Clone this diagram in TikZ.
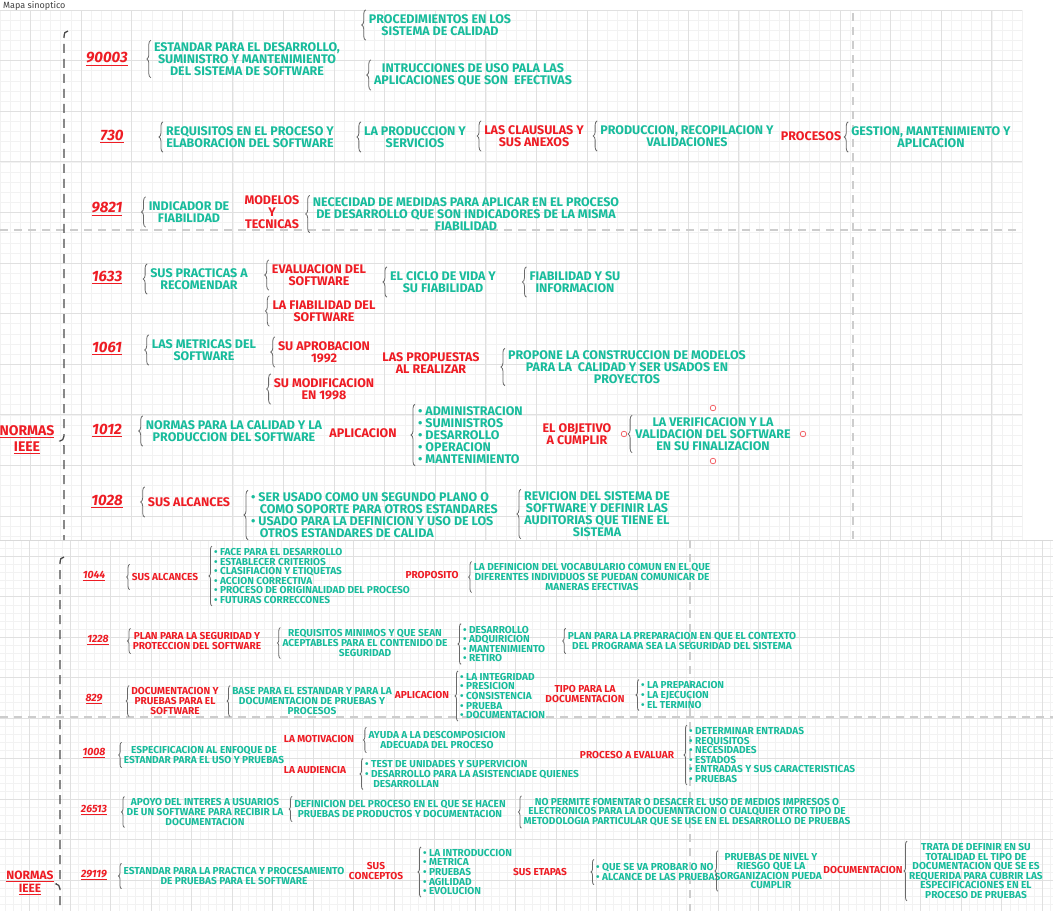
\documentclass[tikz,border=0pt]{standalone}
\usepackage{fontspec}
\setmainfont{Fira Sans}
\usetikzlibrary{decorations.pathreplacing}

\definecolor{verde}{RGB}{24,188,156}
\definecolor{rojo}{RGB}{238,28,36}
\definecolor{llave}{RGB}{105,105,105}
\definecolor{guia}{RGB}{205,205,205}
\newcommand{\topfs}{\fontsize{12.5}{12}\selectfont\bfseries}
\newcommand{\botfs}{\fontsize{10.1}{9.6}\selectfont\bfseries}

\tikzset{
  txt/.style={text=verde, font=\topfs, align=center, inner xsep=1pt, inner ysep=2pt, minimum height=30pt},
  rd/.style={txt, text=rojo},
  lst/.style={txt, align=left, anchor=west},
  num/.style={text=rojo, font=\fontsize{15}{16}\selectfont\bfseries\itshape},
  raiz/.style={text=rojo, align=center, inner sep=1pt, font=\fontsize{14}{16}\selectfont\bfseries},
  stxt/.style={txt, font=\botfs, minimum height=25pt},
  srd/.style={stxt, text=rojo},
  slst/.style={stxt, align=left, anchor=west},
  snum/.style={num, font=\fontsize{10.5}{11}\selectfont\bfseries\itshape},
  llv/.style={draw=llave, line width=0.8pt, decorate, decoration={brace, amplitude=4pt}},
  sllv/.style={llv, decoration={brace, amplitude=3pt}},
  spine/.style={draw=llave!70!black, line width=1.3pt, dash pattern=on 9pt off 6pt},
  guide/.style={draw=guia, line width=1.2pt, dash pattern=on 8pt off 6pt},
  minor/.style={draw=black!5, line width=0.5pt},
  major/.style={draw=black!12, line width=0.7pt},
}

\begin{document}
\begin{tikzpicture}[x=1pt,y=-1pt]
  \useasboundingbox (0,0) rectangle (1053,911);
  \clip (0,0) rectangle (1053,911);
  \fill[white] (0,0) rectangle (1053,911);

  % hoja de arriba
  \foreach \k in {0,...,101} \draw[minor] ({10.12*\k},10) -- ++(0,530);
  \foreach \k in {0,...,52} \draw[minor] (0,{10+10.12*\k}) -- (1022,{10+10.12*\k});
  \foreach \k in {0,...,19} \draw[major] ({30.36+50.6*\k},10) -- ++(0,530);
  \foreach \k in {0,...,10} \draw[major] (0,{10+50.6*\k}) -- (1022,{10+50.6*\k});
  % hoja de abajo
  \foreach \k in {0,...,129} \draw[minor] ({5.4+8.1*\k},540) -- ++(0,371);
  \foreach \k in {0,...,45} \draw[minor] (0,{540+8.1*\k}) -- (1053,{540+8.1*\k});
  \foreach \k in {0,...,25} \draw[major] ({29.7+40.5*\k},540) -- ++(0,371);
  \foreach \k in {0,...,9} \draw[major] (0,{556.2+40.5*\k}) -- (1053,{556.2+40.5*\k});
  \draw[black!15, line width=0.8pt] (0,540) -- (1053,540);

  \draw[guide] (0,230) -- (1022,230);
  \draw[guide] (853,13) -- (853,540);
  \draw[guide] (0,717) -- (1053,717);
  \draw[guide] (690,540) -- (690,911);

  \node[text=black!75, font=\fontsize{9}{10}\selectfont, anchor=base west, inner sep=0pt] (titulo) at (3,8) {Mapa sinoptico};

  % NORMAS IEEE (arriba)
  \node[raiz] (normas) at (27,440) {\underline{NORMAS}\\\underline{IEEE}};
  \coordinate (punta) at (60,441);
  \draw[spine] (68,31) .. controls (65,31) and (64,33) .. (64,38) -- (64,436)
    .. controls (64,439) and (62,441) .. (punta) .. controls (62,441) and (64,443) .. (64,446) -- (64,540);

  \node[num] (n90003) at (107,59) {\underline{90003}};
  \node[txt] (e90003) at (247,59) {ESTANDAR PARA EL DESARROLLO,\\SUMINISTRO Y MANTENIMIENTO\\DEL SISTEMA DE SOFTWARE};
  \node[txt] (p90003) at (440,25) {PROCEDIMIENTOS EN LOS\\SISTEMA DE CALIDAD};
  \node[txt] (i90003) at (473,75) {INTRUCCIONES DE USO PALA LAS\\APLICACIONES QUE SON\ \ EFECTIVAS};

  \node[num] (n730) at (112,136) {\underline{730}};
  \node[txt] (r730) at (250,137) {REQUISITOS EN EL PROCESO Y\\ELABORACION DEL SOFTWARE};
  \node[txt] (p730) at (415,137) {LA PRODUCCION Y\\SERVICIOS};
  \node[rd] (c730) at (534,136) {LAS CLAUSULAS Y\\SUS ANEXOS};
  \node[txt] (v730) at (687,136) {PRODUCCION, RECOPILACION Y\\VALIDACIONES};
  \node[rd] (s730) at (811,136) {PROCESOS};
  \node[txt] (g730) at (931,137) {GESTION, MANTENIMIENTO Y\\APLICACION};

  \node[num] (n9821) at (107,209) {\underline{9821}};
  \node[txt] (i9821) at (189,212) {INDICADOR DE\\FIABILIDAD};
  \node[rd] (m9821) at (272,212) {MODELOS\\Y\\TECNICAS};
  \node[txt] (d9821) at (466,214) {NECECIDAD DE MEDIDAS PARA APLICAR EN EL PROCESO\\DE DESARROLLO QUE SON INDICADORES DE LA MISMA\\FIABILIDAD};

  \node[num] (n1633) at (107,277) {\underline{1633}};
  \node[txt] (s1633) at (199,279) {SUS PRACTICAS A\\RECOMENDAR};
  \node[rd] (e1633) at (319,275) {EVALUACION DEL\\SOFTWARE};
  \node[rd] (f1633) at (324,311) {LA FIABILIDAD DEL\\SOFTWARE};
  \node[txt] (c1633) at (443,282) {EL CICLO DE VIDA Y\\SU FIABILIDAD};
  \node[txt] (i1633) at (575,282) {FIABILIDAD Y SU\\INFORMACION};

  \node[num] (n1061) at (107,348) {\underline{1061}};
  \node[txt] (m1061) at (204,350) {LAS METRICAS DEL\\SOFTWARE};
  \node[rd] (a1061) at (324,352) {SU APROBACION\\1992};
  \node[rd] (o1061) at (324,389) {SU MODIFICACION\\EN 1998};
  \node[rd] (p1061) at (431,363) {LAS PROPUESTAS\\AL REALIZAR};
  \node[txt] (c1061) at (627,367) {PROPONE LA CONSTRUCCION DE MODELOS\\PARA LA\ \ CALIDAD Y SER USADOS EN\\PROYECTOS};

  \node[num] (n1012) at (107,430) {\underline{1012}};
  \node[txt] (c1012) at (234,431) {NORMAS PARA LA CALIDAD Y LA\\PRODUCCION DEL SOFTWARE};
  \node[rd] (a1012) at (363,433) {APLICACION};
  \node[lst] (l1012) at (417,435) {• ADMINISTRACION\\• SUMINISTROS\\• DESARROLLO\\• OPERACION\\• MANTENIMIENTO};
  \node[rd] (o1012) at (577,434) {EL OBJETIVO\\A CUMPLIR};
  \node[txt] (v1012) at (713,434) {LA VERIFICACION Y LA\\VALIDACION DEL SOFTWARE\\EN SU FINALIZACION};
  \foreach \p in {(713,408),(624,434),(803,434),(713,461)}
    \draw[rojo!75, line width=0.7pt] \p circle (2.8);

  \node[num] (n1028) at (107,501) {\underline{1028}};
  \node[rd] (s1028) at (189,502) {SUS ALCANCES};
  \node[lst] (l1028) at (250,515) {• SER USADO COMO UN SEGUNDO PLANO O\\\hspace*{0.7em}COMO SOPORTE PARA OTROS ESTANDARES\\• USADO PARA LA DEFINICION Y USO DE LOS\\\hspace*{0.7em}OTROS ESTANDARES DE CALIDA};
  \node[txt] (r1028) at (597,514) {REVICION DEL SISTEMA DE\\SOFTWARE Y DEFINIR LAS\\AUDITORIAS QUE TIENE EL\\SISTEMA};

  \foreach \n in {e90003,p90003,i90003,r730,p730,c730,v730,g730,i9821,d9821,
                  s1633,e1633,f1633,c1633,i1633,m1061,a1061,o1061,c1061,
                  c1012,l1012,v1012,s1028,l1028,r1028}
    \draw[llv] ([xshift=-2pt]\n.south west) -- ([xshift=-2pt]\n.north west);

  % NORMAS IEEE (abajo)
  \node[raiz, font=\fontsize{12}{13}\selectfont\bfseries] (normas2) at (30,883) {\underline{NORMAS}\\\underline{IEEE}};
  \coordinate (punta2) at (56,884);
  \draw[spine] (64,557) .. controls (61,557) and (60,559) .. (60,564) -- (60,879)
    .. controls (60,882) and (58,884) .. (punta2) .. controls (58,884) and (60,886) .. (60,889) -- (60,911);

  \node[snum] (n1044) at (94,576) {\underline{1044}};
  \node[srd] (s1044) at (165,577) {SUS ALCANCES};
  \node[slst] (l1044) at (213,576) {• FACE PARA EL DESARROLLO\\• ESTABLECER CRITERIOS\\• CLASIFIACION Y ETIQUETAS\\• ACCION CORRECTIVA\\• PROCESO DE ORIGINALIDAD DEL PROCESO\\• FUTURAS CORRECCONES};
  \node[srd] (p1044) at (432,575) {PROPOSITO};
  \node[stxt] (d1044) at (592,577) {LA DEFINICION DEL VOCABULARIO COMUN EN EL QUE\\DIFERENTES INDIVIDUOS SE PUEDAN COMUNICAR DE\\MANERAS EFECTIVAS};

  \node[snum] (n1228) at (98,640) {\underline{1228}};
  \node[srd] (p1228) at (197,641) {PLAN PARA LA SEGURIDAD Y\\PROTECCION DEL SOFTWARE};
  \node[stxt] (r1228) at (365,643) {REQUISITOS MINIMOS Y QUE SEAN\\ACEPTABLES PARA EL CONTENIDO DE\\SEGURIDAD};
  \node[slst] (l1228) at (462,644) {• DESARROLLO\\• ADQUIRICION\\• MANTENIMIENTO\\• RETIRO};
  \node[stxt] (c1228) at (682,641) {PLAN PARA LA PREPARACION EN QUE EL CONTEXTO\\DEL PROGRAMA SEA LA SEGURIDAD DEL SISTEMA};

  \node[snum] (n829) at (94,699) {\underline{829}};
  \node[srd] (d829) at (175,701) {DOCUMENTACION Y\\PRUEBAS PARA EL\\SOFTWARE};
  \node[stxt] (b829) at (312,701) {BASE PARA EL ESTANDAR Y PARA LA\\DOCUMENTACION DE PRUEBAS Y\\PROCESOS};
  \node[srd] (a829) at (422,695) {APLICACION};
  \node[slst] (l829) at (459,696) {• LA INTEGRIDAD\\• PRESICION\\• CONSISTENCIA\\• PRUEBA\\• DOCUMENTACION};
  \node[srd] (t829) at (585,694) {TIPO PARA LA\\DOCUMENTACION};
  \node[slst] (e829) at (640,695) {• LA PREPARACION\\• LA EJECUCION\\• EL TERMINO};

  \node[snum] (n1008) at (94,753) {\underline{1008}};
  \node[stxt] (e1008) at (204,755) {ESPECIFICACION AL ENFOQUE DE\\ESTANDAR PARA EL USO Y PRUEBAS};
  \node[srd] (m1008) at (319,739) {LA MOTIVACION};
  \node[stxt] (y1008) at (437,740) {AYUDA A LA DESCOMPOSICION\\ADECUADA DEL PROCESO};
  \node[srd] (u1008) at (315,770) {LA AUDIENCIA};
  \node[slst] (t1008) at (364,774) {• TEST DE UNIDADES Y SUPERVICION\\• DESARROLLO PARA LA ASISTENCIADE QUIENES\\\hspace*{0.8em}DESARROLLAN};
  \node[srd] (v1008) at (627,755) {PROCESO A EVALUAR};
  \node[slst] (l1008) at (688,755) {• DETERMINAR ENTRADAS\\• REQUISITOS\\• NECESIDADES\\• ESTADOS\\• ENTRADAS Y SUS CARACTERISTICAS\\• PRUEBAS};

  \node[snum] (n26513) at (94,810) {\underline{26513}};
  \node[stxt] (a26513) at (205,812) {APOYO DEL INTERES A USUARIOS\\DE UN SOFTWARE PARA RECIBIR LA\\DOCUMENTACION};
  \node[stxt] (d26513) at (400,809) {DEFINICION DEL PROCESO EN EL QUE SE HACEN\\PRUEBAS DE PRODUCTOS Y DOCUMENTACION};
  \node[stxt] (m26513) at (687,812) {NO PERMITE FOMENTAR O DESACER EL USO DE MEDIOS IMPRESOS O\\ELECTRONICOS PARA LA DOCUEMNTACION O CUALQUIER OTRO TIPO DE\\METODOLOGIA PARTICULAR QUE SE USE EN EL DESARROLLO DE PRUEBAS};

  \node[snum] (n29119) at (94,875) {\underline{29119}};
  \node[stxt] (e29119) at (234,876) {ESTANDAR PARA LA PRACTICA Y PROCESAMIENTO\\DE PRUEBAS PARA EL SOFTWARE};
  \node[srd] (c29119) at (376,871) {SUS\\CONCEPTOS};
  \node[slst] (l29119) at (422,872) {• LA INTRODUCCION\\• METRICA\\• PRUEBAS\\• AGILIDAD\\• EVOLUCION};
  \node[srd] (s29119) at (540,872) {SUS ETAPAS};
  \node[slst] (q29119) at (595,872) {• QUE SE VA PROBAR O NO\\• ALCANCE DE LAS PRUEBAS};
  \node[stxt] (r29119) at (771,871) {PRUEBAS DE NIVEL Y\\RIESGO QUE LA\\ORGANIZACION PUEDA\\CUMPLIR};
  \node[srd] (o29119) at (863,870) {DOCUMENTACION};
  \node[stxt] (t29119) at (976,871) {TRATA DE DEFINIR EN SU\\TOTALIDAD EL TIPO DE\\DOCUMENTACION QUE SE ES\\REQUERIDA PARA CUBRIR LAS\\ESPECIFICACIONES EN EL\\PROCESO DE PRUEBAS};

  \foreach \n in {s1044,l1044,d1044,p1228,r1228,l1228,c1228,d829,b829,l829,e829,
                  e1008,y1008,t1008,l1008,a26513,d26513,m26513,e29119,l29119,q29119,r29119,t29119}
    \draw[sllv] ([xshift=-1pt]\n.south west) -- ([xshift=-1pt]\n.north west);
\end{tikzpicture}
\end{document}
